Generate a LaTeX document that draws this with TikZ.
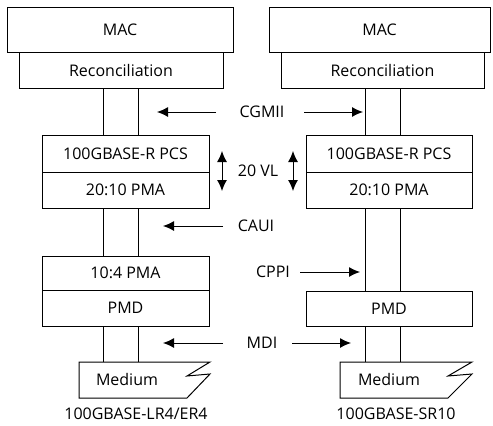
\documentclass[tikz,border=0pt]{standalone}
\usepackage{fontspec}
\setmainfont{Open Sans}
\usetikzlibrary{arrows.meta,positioning}
\tikzset{
  every picture/.style={font=\fontsize{16}{19}\selectfont,line width=1pt},
  layer/.style={draw,rectangle,inner sep=0pt},
  bus/.style={draw,line width=1pt},
  iface/.style={draw,line width=1pt,-{Latex[length=11pt,width=10pt]}},
  vlane/.style={iface,{Latex[length=11pt,width=10pt]}-{Latex[length=11pt,width=10pt]}},
  medium/.style={draw,line width=1pt,line join=miter},
}

\begin{document}
\begin{tikzpicture}[x=1pt,y=-1pt]
  \useasboundingbox (0,0) rectangle (493,426);
  % left stack: 100GBASE-LR4/ER4
  \node[layer,minimum width=226pt,minimum height=45pt] (macL) at (120,29.5) {MAC};
  \node[layer,minimum width=204pt,minimum height=36pt] (recL) at (121,70) {Reconciliation};
  \node[layer,minimum width=167pt,minimum height=37pt] (pcsL) at (125.5,153.5) {100GBASE-R PCS};
  \node[layer,minimum width=167pt,minimum height=36pt] (pmaL) at (125.5,190) {20:10 PMA};
  \node[layer,minimum width=167pt,minimum height=34pt] (gearL) at (125.5,273) {10:4 PMA};
  \node[layer,minimum width=167pt,minimum height=36pt] (pmdL) at (125.5,308) {PMD};
  \draw[medium] (79,362) coordinate (medLtop) -- (210,362) -- (187,376) -- (210,374)
    -- (187,398) -- (79,398) -- cycle;
  \node (medL) at (127,379) {Medium};
  \node (nameL) at (136,414) {100GBASE-LR4/ER4};
  % right stack: 100GBASE-SR10
  \node[layer,minimum width=221pt,minimum height=45pt] (macR) at (379.5,29.5) {MAC};
  \node[layer,minimum width=203pt,minimum height=36pt] (recR) at (382.5,70) {Reconciliation};
  \node[layer,minimum width=166pt,minimum height=37pt] (pcsR) at (389,153.5) {100GBASE-R PCS};
  \node[layer,minimum width=166pt,minimum height=36pt] (pmaR) at (389,190) {20:10 PMA};
  \node[layer,minimum width=166pt,minimum height=35pt] (pmdR) at (389,308.5) {PMD};
  \draw[medium] (340,362) coordinate (medRtop) -- (472,362) -- (448,376) -- (472,374)
    -- (448,398) -- (340,398) -- cycle;
  \node (medR) at (389,379) {Medium};
  \node (nameR) at (396,414) {100GBASE-SR10};
  % buses between the layers
  \foreach \x in {103,138} {
    \draw[bus] (recL.south -| \x,0) -- (pcsL.north -| \x,0);
    \draw[bus] (pmaL.south -| \x,0) -- (gearL.north -| \x,0);
    \draw[bus] (pmdL.south -| \x,0) -- (medLtop -| \x,0);
  }
  \foreach \x in {365,400} {
    \draw[bus] (recR.south -| \x,0) -- (pcsR.north -| \x,0);
    \draw[bus] (pmaR.south -| \x,0) -- (pmdR.north -| \x,0);
    \draw[bus] (pmdR.south -| \x,0) -- (medRtop -| \x,0);
  }
  % interface labels
  \node (cgmii) at (262,112) {CGMII};
  \node (vl) at (258,171) {20 VL};
  \node (caui) at (256,226) {CAUI};
  \node (cppi) at (273,272) {CPPI};
  \node (mdi) at (262,343) {MDI};
  \coordinate (cgmiiL) at (157,112);
  \coordinate (cgmiiR) at (363,112);
  \coordinate (cauiL) at (163,226);
  \coordinate (cppiR) at (360,272);
  \coordinate (mdiL) at (163,343);
  \coordinate (mdiR) at (351,343);
  \draw[iface] (216,112) -- (cgmiiL);
  \draw[iface] (304,112) -- (cgmiiR);
  \draw[iface] (223,226) -- (cauiL);
  \draw[iface] (300,272) -- (cppiR);
  \draw[iface] (223,343) -- (mdiL);
  \draw[iface] (292,343) -- (mdiR);
  \draw[vlane] (222,151) coordinate (vlLtop) -- (222,191) coordinate (vlLbot);
  \draw[vlane] (293,151) coordinate (vlRtop) -- (293,191) coordinate (vlRbot);
\end{tikzpicture}
\end{document}
